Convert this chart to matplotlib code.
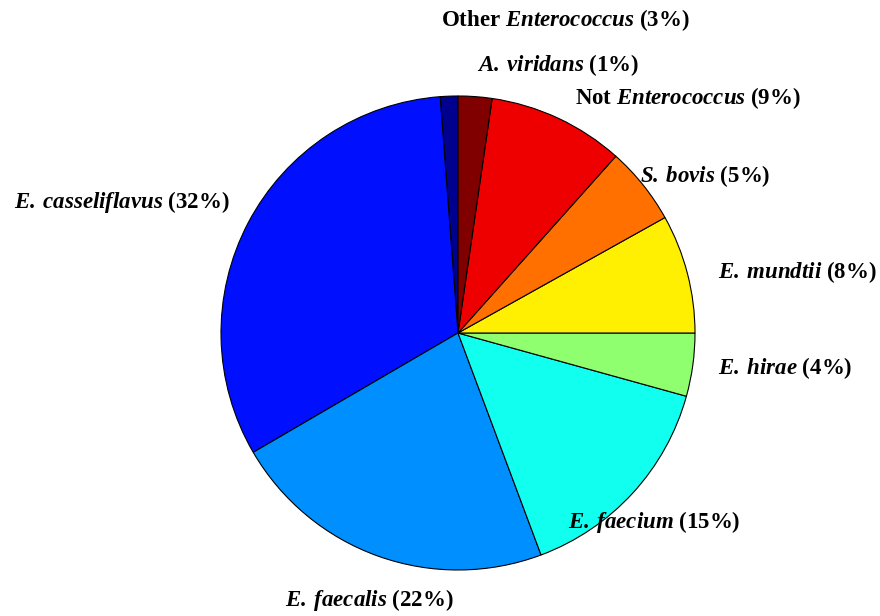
import numpy as np
import matplotlib
matplotlib.use("Agg")
import matplotlib.pyplot as plt

plt.rcParams['mathtext.fontset'] = 'custom'
plt.rcParams['mathtext.bfit'] = 'Liberation Serif:italic:bold'
plt.rcParams['mathtext.it'] = 'Liberation Serif:italic:bold'
plt.rcParams['mathtext.rm'] = 'Liberation Serif:bold'

# slices, counterclockwise from the top
names = [r'$\mathbfit{A.\:viridans}$ (1%)',
         r'$\mathbfit{E.\:casseliflavus}$ (32%)',
         r'$\mathbfit{E.\:faecalis}$ (22%)',
         r'$\mathbfit{E.\:faecium}$ (15%)',
         r'$\mathbfit{E.\:hirae}$ (4%)',
         r'$\mathbfit{E.\:mundtii}$ (8%)',
         r'$\mathbfit{S.\:bovis}$ (5%)',
         r'Not $\mathbfit{Enterococcus}$ (9%)',
         r'Other $\mathbfit{Enterococcus}$ (3%)']
shares = [1.2, 32.2, 22.3, 15.0, 4.3, 8.1, 5.3, 9.3, 2.3]

# label anchor in pixels (x, y from top) and alignment
label_px = [(558, 65, 'center'), (230, 202, 'right'), (369, 600, 'center'),
            (568, 522, 'left'), (718, 368, 'left'), (718, 272, 'left'),
            (640, 176, 'left'), (575, 98, 'left'), (565, 20, 'center')]


def jet64(k):
    # MATLAB-style jet(64), k from 1 to 64
    k = np.asarray(k, dtype=float)
    r = np.clip(np.minimum((k - 24) / 16, (72 - k) / 16), 0, 1)
    g = np.clip(np.minimum((k - 8) / 16, (56 - k) / 16), 0, 1)
    b = np.clip(np.minimum((k + 8) / 16, (40 - k) / 16), 0, 1)
    return np.column_stack([r, g, b])


cx, cy, r = 458, 333, 237
W, H = 880, 616

fig = plt.figure(figsize=(8.8, 6.16), dpi=100)
ax = fig.add_axes([(cx - r) / W, (H - cy - r) / H, 2 * r / W, 2 * r / H])
idx = np.minimum(1 + 8 * np.arange(len(shares)), 64)
colors = jet64(idx)
ax.pie(shares, colors=colors, startangle=90, counterclock=True,
       wedgeprops=dict(edgecolor='black', linewidth=0.8))
ax.set_xlim(-1, 1)
ax.set_ylim(-1, 1)
ax.axis('off')

for name, (px, py, ha) in zip(names, label_px):
    fig.text(px / W, (H - py) / H, name, ha=ha, va='center',
             fontsize=16.5, fontweight='bold', family='Liberation Serif')

fig.savefig('out.png', dpi=100)
